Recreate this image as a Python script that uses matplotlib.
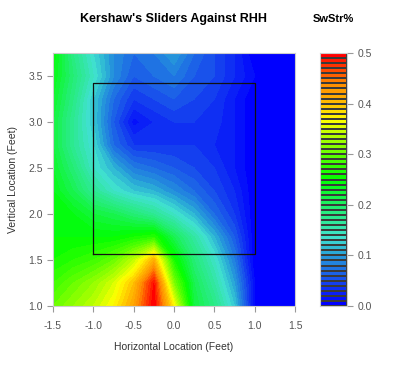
import numpy as np
import matplotlib
matplotlib.use('Agg')
import matplotlib.pyplot as plt
from matplotlib.colors import LinearSegmentedColormap, BoundaryNorm

plt.rcParams['font.family'] = ['Liberation Sans', 'DejaVu Sans']

# grid of the smoothed swinging-strike rate
x_feet = [-1.5, -1.25, -1.0, -0.75, -0.5, -0.25, 0.0, 0.25, 0.5, 0.75, 1.0, 1.25, 1.5]
z_feet = [1.0, 1.25, 1.5, 1.75, 2.0, 2.25, 2.5, 2.75, 3.0, 3.25, 3.5, 3.75]
swstr = [
    [0.30, 0.32, 0.34, 0.37, 0.42, 0.50, 0.37, 0.22, 0.18, 0.12, 0.01, 0.0, 0.0],
    [0.28, 0.30, 0.32, 0.35, 0.40, 0.49, 0.31, 0.21, 0.16, 0.10, 0.01, 0.0, 0.0],
    [0.26, 0.27, 0.28, 0.30, 0.34, 0.41, 0.26, 0.19, 0.14, 0.08, 0.00, 0.0, 0.0],
    [0.25, 0.25, 0.25, 0.25, 0.26, 0.27, 0.21, 0.16, 0.11, 0.06, 0.00, 0.0, 0.0],
    [0.25, 0.24, 0.22, 0.21, 0.19, 0.17, 0.14, 0.11, 0.07, 0.04, 0.00, 0.0, 0.0],
    [0.24, 0.21, 0.17, 0.14, 0.12, 0.11, 0.09, 0.07, 0.05, 0.03, 0.00, 0.0, 0.0],
    [0.23, 0.19, 0.14, 0.11, 0.08, 0.07, 0.06, 0.05, 0.04, 0.02, 0.00, 0.0, 0.0],
    [0.22, 0.17, 0.13, 0.07, 0.04, 0.04, 0.04, 0.04, 0.03, 0.02, 0.00, 0.0, 0.0],
    [0.22, 0.17, 0.12, 0.06, 0.015, 0.03, 0.04, 0.04, 0.035, 0.02, 0.00, 0.0, 0.0],
    [0.23, 0.18, 0.12, 0.07, 0.04, 0.05, 0.06, 0.05, 0.04, 0.02, 0.00, 0.0, 0.0],
    [0.24, 0.19, 0.14, 0.09, 0.06, 0.07, 0.08, 0.06, 0.05, 0.03, 0.01, 0.0, 0.0],
    [0.25, 0.18, 0.13, 0.09, 0.07, 0.08, 0.10, 0.07, 0.05, 0.03, 0.00, 0.0, 0.0],
]
zone_x = [-1.0, 1.0]
zone_z = [1.56, 3.42]
bar_ticks = [0.0, 0.1, 0.2, 0.3, 0.4, 0.5]

# palette blue -> turquoise -> green -> yellow -> orange -> red
nodes = [
    (0.0, (0, 0, 255)), (0.10, (25, 80, 235)), (0.20, (40, 165, 215)),
    (0.26, (64, 224, 208)), (0.40, (30, 240, 100)), (0.50, (0, 255, 0)),
    (0.60, (100, 255, 0)), (0.74, (255, 255, 0)), (0.80, (255, 195, 0)),
    (0.88, (255, 140, 0)), (1.0, (255, 0, 0)),
]
cmap = LinearSegmentedColormap.from_list(
    'swstr', [(p, tuple(c / 255 for c in rgb)) for p, rgb in nodes])
levels = np.linspace(0, 0.5, 51)
norm = BoundaryNorm(levels, cmap.N)

gray = '#555555'
fig = plt.figure(figsize=(4, 3.72), dpi=100)
ax = fig.add_axes([0.1325, 0.1774, 0.605, 0.68])
cax = fig.add_axes([0.80, 0.1774, 0.0675, 0.68])

X, Z = np.meshgrid(x_feet, z_feet)
ax.contourf(X, Z, np.clip(np.array(swstr), 0, 0.4999), levels=levels, cmap=cmap, norm=norm)
ax.plot([zone_x[0], zone_x[1], zone_x[1], zone_x[0], zone_x[0]],
        [zone_z[0], zone_z[0], zone_z[1], zone_z[1], zone_z[0]],
        color='#111111', lw=0.9)
ax.set_xlim(-1.5, 1.5)
ax.set_ylim(1.0, 3.75)
ax.set_xticks(np.arange(-1.5, 1.51, 0.5))
ax.set_yticks(np.arange(1.0, 3.51, 0.5))
ax.xaxis.set_major_formatter(matplotlib.ticker.FormatStrFormatter('%.1f'))
ax.yaxis.set_major_formatter(matplotlib.ticker.FormatStrFormatter('%.1f'))
for a in (ax, cax):
    for s in a.spines.values():
        s.set_color('#cccccc')
        s.set_linewidth(0.8)
    a.tick_params(colors='#999999', labelcolor=gray, labelsize=7.5, length=4, width=0.8)
ax.tick_params(axis='x', pad=7)
ax.set_xlabel('Horizontal Location (Feet)', fontsize=7.5, color='#333333', labelpad=8)
ax.set_ylabel('Vertical Location (Feet)', fontsize=7.5, color='#333333', labelpad=7)
ax.set_title("Kershaw's Sliders Against RHH", fontsize=9, fontweight='bold', pad=22)

# colour key with a border round each band
cax.pcolormesh([0, 1], levels, ((levels[:-1] + levels[1:]) / 2).reshape(-1, 1),
               cmap=cmap, norm=norm, edgecolors='#3a3a3a', linewidth=0.3)
cax.set_xlim(0, 1)
cax.set_ylim(0, 0.5)
cax.set_xticks([])
cax.yaxis.tick_right()
cax.set_yticks(bar_ticks)
cax.yaxis.set_major_formatter(matplotlib.ticker.FormatStrFormatter('%.1f'))
cax.set_title('SwStr%', fontsize=8, fontweight='bold', pad=22)

fig.savefig('out.png', dpi=100)
